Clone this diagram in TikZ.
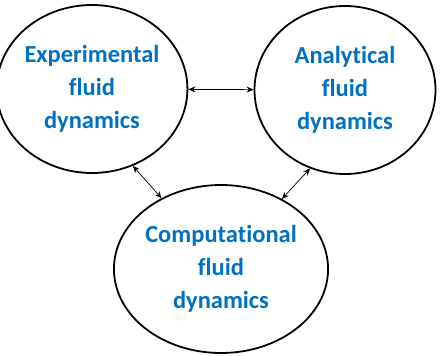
\documentclass[tikz,border=0pt]{standalone}
\usepackage{fontspec}
\setmainfont{Carlito}[RawFeature=-liga]
\usetikzlibrary{shapes.geometric, arrows.meta}
\definecolor{fieldblue}{RGB}{0,112,192}
\tikzset{
	field/.style = {ellipse, draw=black, line width=1.8pt, minimum width=181pt, minimum height=168pt,
		align=center, inner sep=0pt, text=fieldblue, font=\fontsize{24.5}{33}\selectfont\bfseries},
	link/.style = {{Stealth[length=7pt,width=6pt]}-{Stealth[length=7pt,width=6pt]}, line width=0.7pt, black}
}

\begin{document}
\begin{tikzpicture}[x=1pt, y=-1pt]
\useasboundingbox (0,0) rectangle (440,356);
\node [field] (exp) at (92,89) {Experimental\\fluid\\dynamics};
\node [field] (ana) at (345,90) {Analytical\\fluid\\dynamics};
\node [field] (comp) at (221,269) {Computational\\fluid\\dynamics};
\draw [link] (exp) -- (ana);
\draw [link] (exp.-62) -- (comp.130);
\draw [link] (ana.-114) -- (comp.49);
\end{tikzpicture}
\end{document}
